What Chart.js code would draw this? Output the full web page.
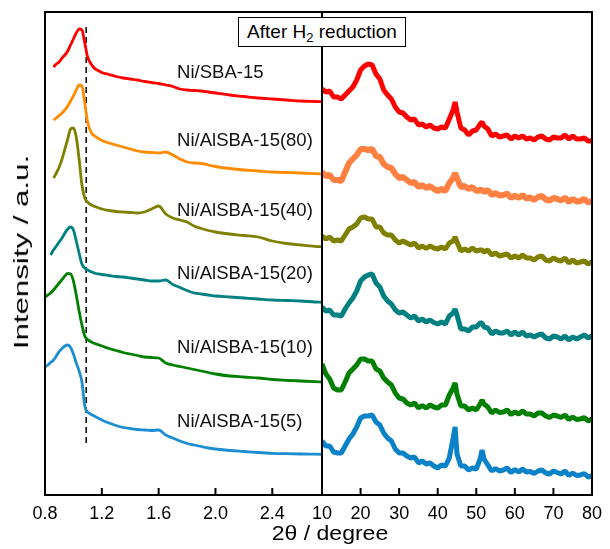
<!DOCTYPE html>
<html>
<head>
<meta charset="utf-8">
<script src="https://cdn.jsdelivr.net/npm/chart.js@4.4.0/dist/chart.umd.min.js"></script>
<style>
  body { margin: 0; background: #fff; width: 610px; height: 549px; position: relative; overflow: hidden;
         font-family: "Liberation Sans", Arial, sans-serif; color: #000; }
  canvas { position: absolute; top: 0; }
  #smallChart { left: 0; }
  #wideChart { left: 300px; }
  .box { position: absolute; left: 238px; top: 17px; width: 166px; height: 28px; border: 1.5px solid #000;
         background: #fff; font-size: 19px; line-height: 28px; text-align: center; white-space: nowrap; }
  .box sub { font-size: 13px; vertical-align: -4px; line-height: 0; }
  .xtitle { position: absolute; left: 230px; width: 200px; top: 522px; text-align: center; font-size: 20px;
            transform: scaleX(1.15); white-space: nowrap; }
  .ytitle { position: absolute; left: -49px; top: 240px; width: 140px; height: 24px; line-height: 24px;
            text-align: center; font-size: 20px; transform: rotate(-90deg) scaleX(1.56); white-space: nowrap; }
</style>
</head>
<body>
<canvas id="smallChart" width="330" height="549"></canvas>
<canvas id="wideChart" width="310" height="549"></canvas>
<div class="box">After H<sub>2</sub> reduction</div>
<div class="xtitle">2θ / degree</div>
<div class="ytitle">Intensity / a.u.</div>
<script>
// sample names, top to bottom
var samples = ["Ni/SBA-15", "Ni/AlSBA-15(80)", "Ni/AlSBA-15(40)", "Ni/AlSBA-15(20)", "Ni/AlSBA-15(10)", "Ni/AlSBA-15(5)"];

// small-angle part (2theta 0.8 - 2.75), intensities already stacked
var smallX = [0.80, 0.82, 0.84, 0.86, 0.88, 0.90, 0.92, 0.94, 0.96, 0.98, 1.00, 1.02, 1.04, 1.06, 1.08, 1.10, 1.12, 1.14, 1.16, 1.18, 1.20,
  1.25, 1.30, 1.35, 1.40, 1.45, 1.50, 1.55, 1.60, 1.65, 1.70, 1.75, 1.80, 1.85, 1.90, 1.95,
  2.0, 2.1, 2.2, 2.3, 2.4, 2.5, 2.6, 2.7, 2.75];
var smallSBA = [null, null, null, 428, 431, 433, 437, 440, 444, 450, 456, 462, 466, 465, 452, 438, 432, 428, 425.5, 424, 422.5,
  420.5, 418.5, 417, 416, 415, 413.5, 412.5, 411.5, 410, 408.5, 406, 405, 404.5, 404, 403,
  402, 400, 398.5, 397, 396, 395, 394, 393.5, 393.3];
var small80 = [null, null, null, 375, 377, 379.5, 382, 385, 389, 394, 399, 405, 410, 409, 392, 373, 364, 360, 358, 356, 354.5,
  352, 350, 348, 346, 344, 343, 342.5, 342, 343, 340, 336, 333, 332, 331.5, 330,
  328.5, 326.5, 325, 324, 323, 322.5, 322, 321.3, 321];
var small40 = [null, null, null, 317, 322, 328, 336, 346, 356, 366, 367, 358, 336, 310, 297, 293, 290.5, 289, 288, 287, 286,
  284.5, 283.5, 283, 282.5, 282, 283, 286, 289, 281, 277, 275, 273, 269, 266.5, 264.5,
  263, 261, 259.5, 258, 254, 251.5, 250, 248.7, 248.3];
var small20 = [null, null, 240, 245, 249, 253, 257, 262, 266, 268, 265, 254, 242, 231, 227, 225, 223.5, 222.5, 221.5, 221, 220.5,
  219.5, 218.5, 218, 217, 216, 215, 214, 214, 215, 210.5, 207.5, 204.5, 202, 201, 200,
  199, 198, 197, 196, 195, 194.5, 194, 193, 192.7];
var small10 = [198, 200, 202, 205, 208.5, 212, 215.5, 219, 221.5, 221, 214, 200, 184, 170, 159, 155.5, 153.5, 152, 151, 150, 149,
  146.5, 144.5, 142.5, 141, 139.5, 138, 137.5, 137, 132, 130, 128.5, 127, 125.5, 124, 122.5,
  121, 119, 118, 117, 115.5, 114.7, 114, 113.3, 113];
var small5 = [128, 130, 132.5, 135, 139, 143.5, 146.5, 149, 150, 147.5, 141, 132, 124, 113, 89, 83, 81, 79.5, 78, 76.5, 75,
  72, 69.5, 67.5, 66.5, 65.5, 65, 64.5, 65, 60, 57, 54, 51.5, 50, 48.5, 47,
  46, 44.5, 43.5, 42.5, 41.7, 41.3, 41, 40.8, 40.7];
var dashX = 1.09;
var dashY = [52, 472];
var smallTicks = [0.8, 1.2, 1.6, 2.0, 2.4];

// wide-angle part (2theta 10 - 80)
var wideX = [10, 11, 12, 13, 14, 15, 16, 17, 18, 19, 20, 21, 22, 23, 24, 25, 26, 27, 28, 29, 30, 31, 32, 33, 34, 35, 36, 37, 38, 39,
  40, 41, 42, 43, 44, 44.5, 45, 46, 47, 48, 49, 50, 51, 51.5, 52, 53, 54, 55, 56, 57, 58, 59, 60,
  61, 62, 63, 64, 65, 66, 67, 68, 69, 70, 71, 72, 73, 74, 75, 76, 77, 78, 79, 80];
var wideSBA = [406, 403, 404, 398, 398, 396, 400, 404, 408, 415, 425, 429, 431, 430, 421, 416, 405, 400, 396, 388,
  383, 382, 378, 375, 376, 370, 371, 368, 370, 367, 366, 368, 367, 376, 385, 393,
  383, 367, 365, 360, 364, 365, 371, 373, 369, 366, 359, 361, 358, 359, 360, 356, 359,
  357, 359, 356, 357, 355, 358, 359, 356, 355, 358, 357, 357, 360, 356, 359, 356, 356, 357, 354, 354];
var wide80 = [323, 319, 320, 315, 315, 314, 323, 332, 336, 340, 346, 346, 345, 346, 339, 338, 331, 328, 327, 321,
  317, 318, 315, 312, 313, 308, 310, 307, 309, 306, 304, 306, 304, 312, 317, 322,
  317, 308, 309, 306, 308, 304, 305, 305, 303, 305, 300, 302, 299.5, 300, 301.5, 297, 299.5,
  297, 300, 296.5, 297.5, 295, 298, 299, 295.5, 294.5, 297, 296, 294.5, 297.5, 293, 296, 293.5, 294, 296, 292.5, 294];
var wide40 = [259, 256, 258, 254, 255, 254, 260, 266, 268, 271, 277, 278, 276, 276, 268, 268, 262, 260, 260, 255,
  252, 254, 252, 250, 252, 247, 249, 246.5, 249, 247, 246, 248, 246, 252, 254, 258,
  253, 244, 246, 244, 247, 244, 245, 245, 243, 245, 240, 242, 239, 240, 241, 237, 239,
  237, 240, 237, 237, 235, 238, 239, 235, 234, 237, 235, 234, 237, 232, 235, 232, 233, 234, 231, 233];
var wide20 = [188, 184, 185, 180, 180, 179, 186, 192, 197, 204, 214, 218, 220, 221, 212, 208, 199, 194, 191, 185,
  182, 183, 180, 177, 179, 174, 176, 173, 175, 172.5, 171, 173, 171, 179, 182, 186,
  180, 166, 166, 164, 168, 168, 172, 172, 168, 167, 161, 164, 162, 162, 164, 160, 163,
  160, 163, 159, 160, 158, 160, 161, 157, 156, 159, 158, 156, 159, 155, 158, 156, 158, 160, 157, 159];
var wide10 = [131, 121, 116, 107, 105, 105, 113, 122, 126, 130, 136, 136, 134, 134, 126, 124, 117, 113, 110, 102,
  97, 96, 92, 90, 92, 87, 89.5, 87, 90, 88, 87, 90, 90, 100, 107, 112,
  101, 89, 89, 85, 87, 85, 91, 95, 91, 88, 82, 85, 82.5, 83, 85, 80.5, 83,
  81, 84, 81, 81, 79, 82, 82, 79, 77.5, 80, 79, 77.5, 80, 75.5, 78, 75.5, 76, 77.5, 74, 76];
var wide5 = [54, 49, 49, 43, 42, 42, 49, 56, 61, 68, 77, 79, 79, 80, 73, 70, 62, 57, 54, 46,
  42, 42, 39, 37, 38, 32, 34, 31, 32, 29, 27, 30, 29, 37, 57, 68,
  41, 29, 29, 25, 27, 26, 36, 45, 36, 30, 24, 26.5, 24, 25, 27, 22.5, 25.5,
  23, 26, 23, 23.5, 21.5, 24, 25, 22, 21, 24, 22.5, 21, 24, 19.5, 22, 19.5, 20, 21.5, 18, 19];
var wideTicks = [10, 20, 30, 40, 50, 60, 70, 80];

var yMax = 483;
var smallColors = ["#ff0000", "#ff8c00", "#808000", "#008080", "#008000", "#1b8dd0"];
var wideColors = ["#ff0000", "#ff8040", "#808000", "#008080", "#008000", "#0a82c8"];
var wideWidths = [5, 6, 5, 5, 5, 5];

function pts(xs, ys) {
  return xs.map(function (x, i) { return { x: x, y: ys[i] }; });
}

// black frame + inward tick marks
var framePlugin = {
  id: "frame",
  afterDatasetsDraw: function (chart, args, opts) {
    var a = chart.chartArea, c = chart.ctx, sx = chart.scales.x;
    c.save();
    c.strokeStyle = "#000";
    c.lineWidth = 2;
    c.strokeRect(a.left, a.top, a.right - a.left, a.bottom - a.top);
    opts.ticks.forEach(function (t) {
      var px = sx.getPixelForValue(t);
      if (px <= a.left + 2 || px >= a.right - 2) return;
      c.beginPath();
      c.moveTo(px, a.bottom);
      c.lineTo(px, a.bottom - 7);
      c.stroke();
    });
    c.restore();
  }
};

// sample names next to the curves
var namePlugin = {
  id: "names",
  afterDatasetsDraw: function (chart, args, opts) {
    if (!opts.items) return;
    var c = chart.ctx;
    c.save();
    c.font = "18.5px 'Liberation Sans', Arial, sans-serif";
    c.fillStyle = "#111";
    c.textBaseline = "middle";
    opts.items.forEach(function (it) {
      c.fillText(it.text, chart.scales.x.getPixelForValue(it.x), chart.scales.y.getPixelForValue(it.y));
    });
    c.restore();
  }
};

var smallSeries = [smallSBA, small80, small40, small20, small10, small5];
var wideSeries = [wideSBA, wide80, wide40, wide20, wide10, wide5];

var smallSets = smallSeries.map(function (s, i) {
  return {
    label: samples[i],
    data: pts(smallX, s),
    borderColor: smallColors[i],
    borderWidth: 2.8,
    pointRadius: 0,
    cubicInterpolationMode: "monotone",
    fill: false
  };
});
smallSets.push({
  label: "d",
  data: [{ x: dashX, y: dashY[0] }, { x: dashX, y: dashY[1] }],
  borderColor: "#000",
  borderWidth: 1.5,
  borderDash: [6, 4],
  pointRadius: 0
});

var wideSets = wideSeries.map(function (s, i) {
  return {
    label: samples[i],
    data: pts(wideX, s),
    borderColor: wideColors[i],
    borderWidth: wideWidths[i],
    borderJoinStyle: "bevel",
    pointRadius: 0,
    tension: 0,
    fill: false
  };
});

function xAxis(min, max, ticks, fmt) {
  return {
    type: "linear",
    min: min,
    max: max,
    afterBuildTicks: function (scale) {
      scale.ticks = ticks.map(function (v) { return { value: v }; });
    },
    afterFit: function (scale) { scale.height = 54; },
    grid: { display: false, drawTicks: false },
    border: { display: false },
    ticks: {
      autoSkip: false,
      maxRotation: 0,
      padding: 8,
      color: "#000",
      font: { family: "'Liberation Sans', Arial, sans-serif", size: 18 },
      callback: fmt
    }
  };
}

var yAxis = { display: false, min: 0, max: yMax };

var labelY = [422.5, 354, 284, 221, 147, 73.5];

new Chart(document.getElementById("smallChart").getContext("2d"), {
  type: "line",
  data: { datasets: smallSets },
  options: {
    responsive: false,
    animation: false,
    layout: { padding: { left: 45, right: 8, top: 12, bottom: 0 } },
    scales: {
      x: xAxis(0.8, 2.75, smallTicks, function (v) { return Number(v).toFixed(1); }),
      y: yAxis
    },
    plugins: {
      legend: { display: false },
      tooltip: { enabled: false },
      frame: { ticks: smallTicks },
      names: { items: samples.map(function (n, i) { return { text: n, x: 1.73, y: labelY[i] }; }) }
    }
  },
  plugins: [framePlugin, namePlugin]
});

new Chart(document.getElementById("wideChart").getContext("2d"), {
  type: "line",
  data: { datasets: wideSets },
  options: {
    responsive: false,
    animation: false,
    layout: { padding: { left: 22, right: 12, top: 12, bottom: 0 } },
    scales: {
      x: xAxis(10, 80, wideTicks, function (v) { return v; }),
      y: yAxis
    },
    plugins: {
      legend: { display: false },
      tooltip: { enabled: false },
      frame: { ticks: wideTicks }
    }
  },
  plugins: [framePlugin, namePlugin]
});
</script>
</body>
</html>
